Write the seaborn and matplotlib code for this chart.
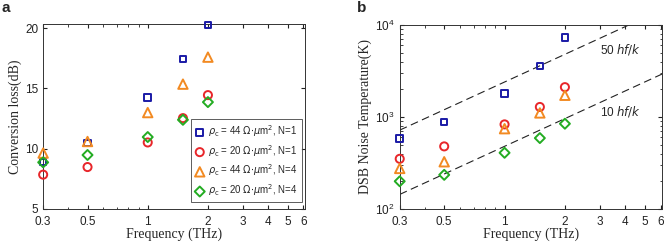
import numpy as np
import pandas as pd
import matplotlib
matplotlib.use("Agg")
import matplotlib.pyplot as plt
import seaborn as sns
from matplotlib.ticker import FixedLocator, NullFormatter, LogLocator

# frequencies (THz)
freq = [0.3, 0.5, 1.0, 1.5, 2.0]

# conversion loss (dB)
loss_44_n1 = [8.9, 10.47, 14.25, 17.46, 20.28]
loss_20_n1 = [7.85, 8.48, 10.52, 12.54, 14.45]
loss_44_n4 = [9.64, 10.6, 13.0, 15.36, 17.6]
loss_20_n4 = [8.87, 9.48, 10.97, 12.4, 13.87]

# DSB noise temperature (K)
temp_44_n1 = [580, 882, 1800, 3570, 7330]
temp_20_n1 = [351, 479, 831, 1285, 2110]
temp_44_n4 = [276, 326, 746, 1107, 1722]
temp_20_n4 = [200, 235, 408, 590, 845]

labels = [r"$\rho_\mathrm{c}$ = 44 $\Omega{\cdot}\mu$m$^2$, N=1",
          r"$\rho_\mathrm{c}$ = 20 $\Omega{\cdot}\mu$m$^2$, N=1",
          r"$\rho_\mathrm{c}$ = 44 $\Omega{\cdot}\mu$m$^2$, N=4",
          r"$\rho_\mathrm{c}$ = 20 $\Omega{\cdot}\mu$m$^2$, N=4"]
colors = ["#1a1aa6", "#e8262a", "#f28a22", "#23ac22"]
markers = ["s", "o", "^", "D"]
sizes = [22, 34, 46, 26]

xticks = [0.3, 0.5, 1, 2, 3, 4, 5, 6]
line_freq = [0.3, 6.1]
line_factors = [50, 10]

h = 6.62607e-34
kB = 1.380649e-23

sns.set_style("ticks")
plt.rcParams["font.family"] = ["Liberation Sans", "DejaVu Sans"]
plt.rcParams["mathtext.fontset"] = "dejavusans"
plt.rcParams["axes.linewidth"] = 0.7

fig = plt.figure(figsize=(6.64, 2.45), dpi=100)
ax1 = fig.add_axes([0.065, 0.147, 0.394, 0.755])
ax2 = fig.add_axes([0.602, 0.147, 0.395, 0.751])

loss_sets = [loss_44_n1, loss_20_n1, loss_44_n4, loss_20_n4]
temp_sets = [temp_44_n1, temp_20_n1, temp_44_n4, temp_20_n4]

for vals, lab, c, m, s in zip(loss_sets, labels, colors, markers, sizes):
    df = pd.DataFrame({"f": freq, "v": vals})
    sns.scatterplot(data=df, x="f", y="v", ax=ax1, marker=m, s=s, color=c,
                    facecolors="none", edgecolors=c, linewidth=1.4, label=lab,
                    zorder=3, clip_on=False)

for vals, lab, c, m, s in zip(temp_sets, labels, colors, markers, sizes):
    df = pd.DataFrame({"f": freq, "v": vals})
    sns.scatterplot(data=df, x="f", y="v", ax=ax2, marker=m, s=s, color=c,
                    facecolors="none", edgecolors=c, linewidth=1.4,
                    legend=False, zorder=3, clip_on=False)

# quantum-limit reference lines
lf = np.array(line_freq)
for n in line_factors:
    ax2.plot(lf, n * h * lf * 1e12 / kB, color="#222222", lw=0.8,
             dashes=(7, 4), zorder=2)
ax2.text(3.0, 5480, r"50 $hf/k$", fontsize=8.5, ha="left", va="center")
ax2.text(3.0, 1133, r"10 $hf/k$", fontsize=8.5, ha="left", va="center")

for ax in (ax1, ax2):
    ax.set_xscale("log")
    ax.set_xlim(0.3, 6.1)
    ax.xaxis.set_major_locator(FixedLocator(xticks))
    ax.set_xticklabels([f"{t:g}" for t in xticks])
    ax.xaxis.set_minor_locator(FixedLocator([0.4, 0.6, 0.7, 0.8, 0.9]))
    ax.xaxis.set_minor_formatter(NullFormatter())
    ax.tick_params(which="both", direction="in", top=True, right=True,
                   labelsize=8.5, colors="#222222", length=3)
    ax.tick_params(which="minor", length=1.8)
    ax.tick_params(axis="x", which="major", pad=5)
    ax.set_xlabel("Frequency (THz)", family="Liberation Serif", fontsize=10,
                  labelpad=0)
    for sp in ax.spines.values():
        sp.set_color("#333333")

ax1.set_ylim(5, 20.35)
ax1.set_yticks([5, 10, 15, 20])
ax1.set_ylabel("Conversion loss(dB)", family="Liberation Serif", fontsize=10,
               labelpad=2)
leg = ax1.legend(loc="lower right", fontsize=7, frameon=True, fancybox=False,
                 edgecolor="#333333", borderpad=0.4, labelspacing=0.4,
                 handletextpad=0.3, handlelength=1.1, borderaxespad=0,
                 bbox_to_anchor=(0.988, 0.038))
leg.get_frame().set_linewidth(0.7)

ax2.set_yscale("log")
ax2.set_ylim(100, 10000)
ax2.yaxis.set_major_locator(LogLocator(base=10))
ax2.set_ylabel("DSB Noise Temperature(K)", family="Liberation Serif",
               fontsize=10, labelpad=2)

fig.text(0.002, 0.995, "a", fontsize=11, fontweight="bold", va="top")
fig.text(0.538, 0.995, "b", fontsize=11, fontweight="bold", va="top")

fig.savefig("out.png", dpi=100)
